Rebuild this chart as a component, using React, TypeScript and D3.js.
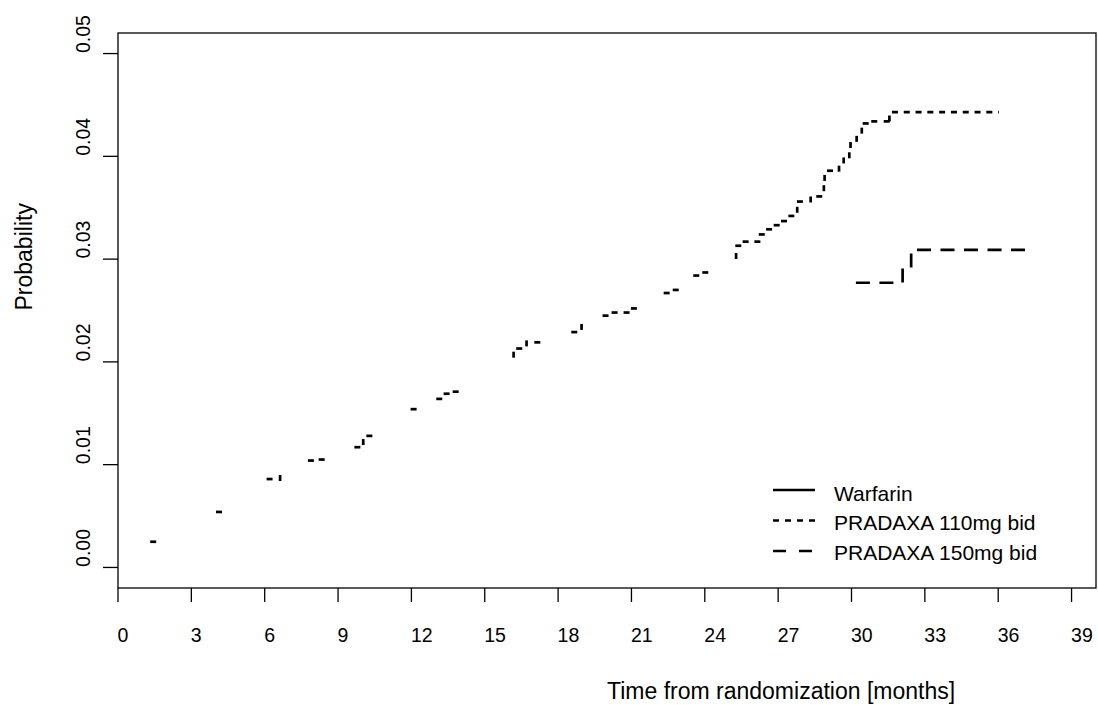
import React from "react";
import * as d3 from "d3";

// ---------- data ----------
const xTicks = [0, 3, 6, 9, 12, 15, 18, 21, 24, 27, 30, 33, 36, 39];
const yTicks = [0, 0.01, 0.02, 0.03, 0.04, 0.05];

// PRADAXA 110mg bid: visible dotted marks of the step curve (time, prob, orientation)
const dots110Time = [1.44, 4.13, 6.2, 6.63, 7.89, 8.33, 9.79, 10.03, 10.28, 12.09, 13.14, 13.44, 13.81, 16.18, 16.41, 16.71, 17.15, 18.66, 18.96, 19.94, 20.31, 20.8, 21.1, 22.44, 22.81, 23.65, 24.02, 25.28, 25.37, 25.67, 26.15, 26.33, 26.63, 26.94, 27.24, 27.54, 27.78, 27.89, 28.33, 28.68, 28.87, 28.9, 29.12, 29.49, 29.68, 29.91, 29.96, 30.21, 30.42, 30.58, 30.93, 31.44];
const dots110Prob = [0.0025, 0.0054, 0.0086, 0.0087, 0.0104, 0.0105, 0.0117, 0.0122, 0.0128, 0.0154, 0.0164, 0.0169, 0.0171, 0.0207, 0.0213, 0.0218, 0.0219, 0.0229, 0.0234, 0.0245, 0.0248, 0.0248, 0.0252, 0.0267, 0.027, 0.0284, 0.0287, 0.0303, 0.0313, 0.0317, 0.0317, 0.0324, 0.0329, 0.0333, 0.0337, 0.0342, 0.0348, 0.0356, 0.0358, 0.0361, 0.0369, 0.0379, 0.0386, 0.0388, 0.0396, 0.0401, 0.0411, 0.0417, 0.0425, 0.0432, 0.0434, 0.0434];
const dots110Dir = ["h", "h", "h", "v", "h", "h", "h", "v", "h", "h", "h", "h", "h", "v", "h", "v", "h", "h", "v", "h", "h", "h", "h", "h", "h", "h", "h", "v", "h", "h", "h", "h", "h", "h", "h", "h", "v", "h", "v", "h", "v", "v", "h", "v", "v", "v", "v", "v", "v", "h", "h", "h"];
// PRADAXA 110mg bid: final plateau (step curve)
const tail110Time = [31.55, 31.55, 36.03];
const tail110Prob = [0.0434, 0.0443, 0.0443];

// PRADAXA 150mg bid step curve
const p150Time = [30.18, 32.09, 32.44, 37.2];
const p150Prob = [0.0277, 0.0291, 0.0309, 0.0309];

const legendLabels = ["Warfarin", "PRADAXA 110mg bid", "PRADAXA 150mg bid"];
const legendDash = ["none", "6 6", "13 13"];

const FONT = "'Liberation Sans', Arial, Helvetica, sans-serif";

export default function App() {
  const x = d3.scaleLinear().domain([0, 40]).range([118, 1096]);
  const y = d3.scaleLinear().domain([-0.002, 0.052]).range([588, 33]);

  const stepLine = d3
    .line<[number, number]>()
    .x((d) => x(d[0]))
    .y((d) => y(d[1]))
    .curve(d3.curveStepAfter);
  const plainLine = d3
    .line<[number, number]>()
    .x((d) => x(d[0]))
    .y((d) => y(d[1]));

  const p150: [number, number][] = p150Time.map((t, i) => [t, p150Prob[i]]);
  const tail110: [number, number][] = tail110Time.map((t, i) => [t, tail110Prob[i]]);

  const half = 3;
  const cx0 = (x(0) + x(40)) / 2;
  const cy0 = (y(-0.002) + y(0.052)) / 2;

  return (
    <svg
      width={1098}
      height={705}
      style={{ position: "absolute", left: 0, top: 0, background: "#fff" }}
      fontFamily={FONT}
    >
      <rect x={0} y={0} width={1098} height={705} fill="#fff" />
      {/* box */}
      <rect
        x={x(0)}
        y={y(0.052)}
        width={x(40) - x(0)}
        height={y(-0.002) - y(0.052)}
        fill="none"
        stroke="#000"
        strokeWidth={1.3}
      />
      {/* x axis ticks */}
      {xTicks.map((t) => (
        <g key={"xt" + t}>
          <line x1={x(t)} x2={x(t)} y1={588} y2={602} stroke="#000" strokeWidth={1.3} />
          <text x={x(t) - 0.5} y={642} fontSize={19.5} textAnchor="start" fill="#000">
            {t}
          </text>
        </g>
      ))}
      {/* y axis ticks */}
      {yTicks.map((v) => (
        <g key={"yt" + v}>
          <line x1={103} x2={118} y1={y(v)} y2={y(v)} stroke="#000" strokeWidth={1.3} />
          <text
            transform={`translate(89.5,${y(v) - 0.5}) rotate(-90)`}
            fontSize={19.5}
            textAnchor="start"
            fill="#000"
          >
            {v.toFixed(2)}
          </text>
        </g>
      ))}
      {/* axis titles */}
      <text x={cx0} y={699} fontSize={23} textAnchor="start" fill="#000">
        Time from randomization [months]
      </text>
      <text transform={`translate(32,${cy0}) rotate(-90)`} fontSize={23} textAnchor="start" fill="#000">
        Probability
      </text>

      {/* PRADAXA 110 dotted marks */}
      {dots110Time.map((t, i) => {
        const cx = x(t);
        const cy = y(dots110Prob[i]);
        return dots110Dir[i] === "h" ? (
          <line key={"d" + i} x1={cx - half} x2={cx + half} y1={cy} y2={cy} stroke="#000" strokeWidth={2.7} />
        ) : (
          <line key={"d" + i} x1={cx} x2={cx} y1={cy - half} y2={cy + half} stroke="#000" strokeWidth={2.7} />
        );
      })}
      <path d={plainLine(tail110) || ""} fill="none" stroke="#000" strokeWidth={2.7} strokeDasharray="6 5.8" />

      {/* PRADAXA 150 dashed */}
      <path d={stepLine(p150) || ""} fill="none" stroke="#000" strokeWidth={2.7} strokeDasharray="14 9.5" />

      {/* legend */}
      {legendLabels.map((lab, i) => (
        <g key={"lg" + i}>
          <line
            x1={773}
            x2={815}
            y1={490 + i * 30.5}
            y2={490 + i * 30.5}
            stroke="#000"
            strokeWidth={2.7}
            strokeDasharray={legendDash[i]}
          />
          <text x={834} y={500.7 + i * 29.7} fontSize={21} fill="#000">
            {lab}
          </text>
        </g>
      ))}
    </svg>
  );
}
